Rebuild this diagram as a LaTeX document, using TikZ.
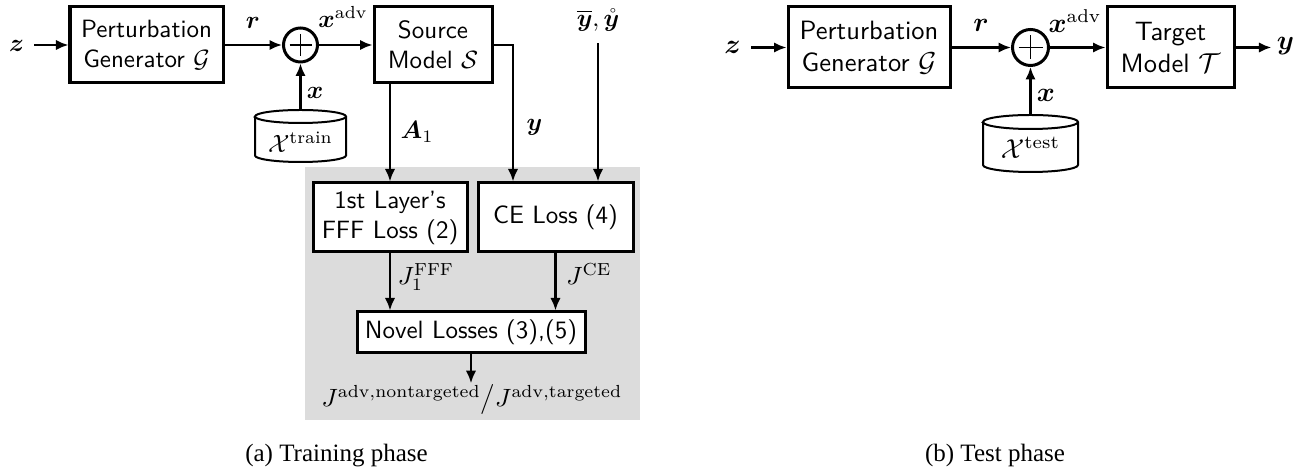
\documentclass[tikz,border=0pt]{standalone}
\usepackage{amsmath,amssymb,bm}
\usepackage{fontspec}
\newfontfamily\capfont{Liberation Serif}
\usetikzlibrary{arrows.meta}
\definecolor{graybg}{RGB}{220,220,220}
\newcommand{\rsz}{\fontsize{10.6}{12.7}\selectfont}
\begin{document}
\begin{tikzpicture}[x=0.4pt,y=-0.4pt,
  box/.style={draw,fill=white,line width=1.2pt,font=\sffamily,align=center,inner sep=0pt},
  rbox/.style={box,font=\sffamily\rsz},
  arr/.style={-{Latex[length=5pt,width=4.2pt]},line width=1.1pt},
  lbl/.style={inner sep=0pt},
  cyl/.style={line width=0.8pt},
  sumnode/.style={draw,circle,line width=1.2pt,inner sep=0pt},
  plusline/.style={line width=0.7pt},
  caption/.style={font=\capfont,anchor=base,inner sep=0pt}]
\useasboundingbox (0,0) rectangle (1305,470);
\fill[graybg] (305,167) rectangle (640,420);

% ---------- (a) training phase ----------
\node[lbl,inner sep=4pt] (z1) at (16.5,46) {$\boldsymbol{z}$};
\node[box,minimum width=61.2pt,minimum height=30.4pt] (pg1) at (146.5,45) {Perturbation\\Generator $\mathcal{G}$};
\node[sumnode,minimum size=13.6pt] (sum1) at (300.5,45) {};
\draw[plusline] (sum1.center) ++(-11,0) -- ++(22,0);
\draw[plusline] (sum1.center) ++(0,-11) -- ++(0,22);
\node[box,minimum width=47.2pt,minimum height=30.4pt] (src) at (433,45) {Source\\Model $\mathcal{S}$};

\draw[arr] (z1.east |- pg1) -- (pg1.west);
\draw[arr] (pg1.east) -- (sum1.west);
\draw[arr] (sum1.east) -- (src.west);
\node[lbl] (r1) at (253,22.5) {$\boldsymbol{r}$};
\node[lbl] (xadv1) at (343,17) {$\boldsymbol{x}^{\mathrm{adv}}$};

% dataset cylinder
\draw[cyl] (255,116.5) -- (255,155.5)
  arc[start angle=180,end angle=360,x radius=18.2pt,y radius=2.6pt]
  -- (346,116.5)
  arc[start angle=0,end angle=180,x radius=18.2pt,y radius=2.6pt] -- cycle;
\draw[cyl] (255,116.5) arc[start angle=180,end angle=360,x radius=18.2pt,y radius=2.6pt];
\node[lbl] (dtrain) at (300.5,142) {$\mathcal{X}^{\mathrm{train}}$};
\coordinate (dtraintop) at (300.5,110);
\draw[arr] (dtraintop) -- (dtraintop |- sum1.south);
\node[lbl] (x1) at (315,93) {$\boldsymbol{x}$};

% loss boxes
\node[box,minimum width=61.6pt,minimum height=27.6pt] (fff) at (390,217.5) {1st Layer's\\FFF Loss (2)};
\node[box,minimum width=62pt,minimum height=27.6pt] (ce) at (555.5,217.5) {CE Loss (4)};
\node[box,minimum width=91.2pt,minimum height=16.4pt] (novel) at (471,332.5) {Novel Losses (3),(5)};

\draw[arr] (fff.north |- src.south) -- (fff.north);
\node[lbl] (a1) at (417,132) {$\boldsymbol{A}_1$};

\coordinate (yturn) at (513,45);
\draw[arr] (src.east) -- (yturn) -- (yturn |- ce.north);
\node[lbl] (ylab) at (534.5,127) {$\boldsymbol{y}$};

\node[lbl,inner sep=4.5pt] (ybar) at (598,20) {$\overline{\boldsymbol{y}},\mathring{\boldsymbol{y}}$};
\draw[arr] (ybar.south) -- (ybar.south |- ce.north);

\draw[arr] (fff.south) -- (fff.south |- novel.north);
\draw[arr] (ce.south) -- (ce.south |- novel.north);
\node[lbl] (jfff) at (426,277) {$J_1^{\mathrm{FFF}}$};
\node[lbl] (jce) at (589,274) {$J^{\mathrm{CE}}$};

\node[inner sep=0.5pt] (jadv) at (472,400) {$J^{\mathrm{adv,nontargeted}}\big/J^{\mathrm{adv,targeted}}$};
\draw[arr] (novel.south) -- (novel.south |- jadv.north);

\node[caption] (capa) at (336.5,462) {(a) Training phase};

% ---------- (b) test phase ----------
\node[lbl,inner sep=4pt,font=\rsz] (z2) at (732.5,47) {$\boldsymbol{z}$};
\node[rbox,minimum width=64.8pt,minimum height=32.4pt] (pg2) at (869,47.5) {Perturbation\\Generator $\mathcal{G}$};
\node[sumnode,minimum size=14.4pt] (sum2) at (1030.5,47.5) {};
\draw[plusline] (sum2.center) ++(-12,0) -- ++(24,0);
\draw[plusline] (sum2.center) ++(0,-12) -- ++(0,24);
\node[rbox,minimum width=50.8pt,minimum height=32.4pt] (tgt) at (1170.5,47.5) {Target\\Model $\mathcal{T}$};
\node[lbl,inner sep=2pt,font=\rsz] (y2) at (1285.5,46) {$\boldsymbol{y}$};

\draw[arr] (z2.east |- pg2) -- (pg2.west);
\draw[arr] (pg2.east) -- (sum2.west);
\draw[arr] (sum2.east) -- (tgt.west);
\draw[arr] (tgt.east) -- (tgt.east -| y2.west);
\node[lbl,font=\rsz] (r2) at (981,25) {$\boldsymbol{r}$};
\node[lbl,font=\rsz] (xadv2) at (1075,21) {$\boldsymbol{x}^{\mathrm{adv}}$};

\draw[cyl] (983,122) -- (983,165)
  arc[start angle=180,end angle=360,x radius=19pt,y radius=2.8pt]
  -- (1078,122)
  arc[start angle=0,end angle=180,x radius=19pt,y radius=2.8pt] -- cycle;
\draw[cyl] (983,122) arc[start angle=180,end angle=360,x radius=19pt,y radius=2.8pt];
\node[lbl,font=\rsz] (dtest) at (1030.5,148) {$\mathcal{X}^{\mathrm{test}}$};
\coordinate (dtesttop) at (1030.5,115);
\draw[arr] (dtesttop) -- (dtesttop |- sum2.south);
\node[lbl,font=\rsz] (x2) at (1046,95) {$\boldsymbol{x}$};

\node[caption] (capb) at (995,462) {(b) Test phase};
\end{tikzpicture}
\end{document}
